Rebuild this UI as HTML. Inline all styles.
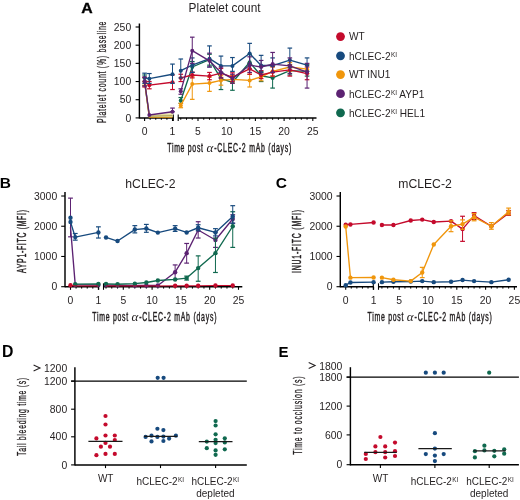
<!DOCTYPE html>
<html><head><meta charset="utf-8"><style>
html,body{margin:0;padding:0;background:#fff;}
svg{display:block;font-family:"Liberation Sans", sans-serif;will-change:transform;}
</style></head><body>
<svg width="520" height="500" viewBox="0 0 520 500">
<rect width="520" height="500" fill="#fff"/>
<text transform="translate(81.3,12.7) scale(1.1,1)" font-size="14.4" font-weight="bold" fill="#000" stroke="#000" stroke-width="0.3">A</text>
<text x="224.60" y="12.20" font-size="12.5" text-anchor="middle" font-weight="normal" fill="#231f20"  textLength="72" lengthAdjust="spacingAndGlyphs">Platelet count</text>
<line x1="139.40" y1="23.50" x2="139.40" y2="118.50" stroke="#000" stroke-width="1.45" />
<line x1="135.60" y1="117.90" x2="139.40" y2="117.90" stroke="#000" stroke-width="1.1" />
<text x="131.20" y="121.50" font-size="10.4" text-anchor="end" font-weight="normal" fill="#231f20" >0</text>
<line x1="135.60" y1="99.72" x2="139.40" y2="99.72" stroke="#000" stroke-width="1.1" />
<text x="131.20" y="103.32" font-size="10.4" text-anchor="end" font-weight="normal" fill="#231f20" >50</text>
<line x1="135.60" y1="81.54" x2="139.40" y2="81.54" stroke="#000" stroke-width="1.1" />
<text x="131.20" y="85.14" font-size="10.4" text-anchor="end" font-weight="normal" fill="#231f20" >100</text>
<line x1="135.60" y1="63.36" x2="139.40" y2="63.36" stroke="#000" stroke-width="1.1" />
<text x="131.20" y="66.96" font-size="10.4" text-anchor="end" font-weight="normal" fill="#231f20" >150</text>
<line x1="135.60" y1="45.18" x2="139.40" y2="45.18" stroke="#000" stroke-width="1.1" />
<text x="131.20" y="48.78" font-size="10.4" text-anchor="end" font-weight="normal" fill="#231f20" >200</text>
<line x1="135.60" y1="27.00" x2="139.40" y2="27.00" stroke="#000" stroke-width="1.1" />
<text x="131.20" y="30.60" font-size="10.4" text-anchor="end" font-weight="normal" fill="#231f20" >250</text>
<line x1="139.40" y1="117.90" x2="173.50" y2="117.90" stroke="#000" stroke-width="1.45" />
<line x1="173.30" y1="114.50" x2="173.30" y2="121.00" stroke="#000" stroke-width="1.1" />
<line x1="144.60" y1="117.90" x2="144.60" y2="121.00" stroke="#000" stroke-width="1.1" />
<line x1="172.50" y1="117.90" x2="172.50" y2="121.00" stroke="#000" stroke-width="1.1" />
<line x1="150.18" y1="117.90" x2="150.18" y2="119.80" stroke="#000" stroke-width="1" />
<line x1="155.76" y1="117.90" x2="155.76" y2="119.80" stroke="#000" stroke-width="1" />
<line x1="161.34" y1="117.90" x2="161.34" y2="119.80" stroke="#000" stroke-width="1" />
<line x1="166.92" y1="117.90" x2="166.92" y2="119.80" stroke="#000" stroke-width="1" />
<text x="144.60" y="135.00" font-size="10.4" text-anchor="middle" font-weight="normal" fill="#231f20" >0</text>
<text x="172.50" y="135.00" font-size="10.4" text-anchor="middle" font-weight="normal" fill="#231f20" >1</text>
<line x1="178.20" y1="117.90" x2="316.50" y2="117.90" stroke="#000" stroke-width="1.45" />
<line x1="178.20" y1="114.50" x2="178.20" y2="121.00" stroke="#000" stroke-width="1.1" />
<line x1="180.78" y1="117.90" x2="180.78" y2="119.80" stroke="#000" stroke-width="1" />
<line x1="186.52" y1="117.90" x2="186.52" y2="119.80" stroke="#000" stroke-width="1" />
<line x1="192.26" y1="117.90" x2="192.26" y2="119.80" stroke="#000" stroke-width="1" />
<line x1="198.00" y1="117.90" x2="198.00" y2="121.00" stroke="#000" stroke-width="1.1" />
<line x1="203.74" y1="117.90" x2="203.74" y2="119.80" stroke="#000" stroke-width="1" />
<line x1="209.48" y1="117.90" x2="209.48" y2="119.80" stroke="#000" stroke-width="1" />
<line x1="215.22" y1="117.90" x2="215.22" y2="119.80" stroke="#000" stroke-width="1" />
<line x1="220.96" y1="117.90" x2="220.96" y2="119.80" stroke="#000" stroke-width="1" />
<line x1="226.70" y1="117.90" x2="226.70" y2="121.00" stroke="#000" stroke-width="1.1" />
<line x1="232.44" y1="117.90" x2="232.44" y2="119.80" stroke="#000" stroke-width="1" />
<line x1="238.18" y1="117.90" x2="238.18" y2="119.80" stroke="#000" stroke-width="1" />
<line x1="243.92" y1="117.90" x2="243.92" y2="119.80" stroke="#000" stroke-width="1" />
<line x1="249.66" y1="117.90" x2="249.66" y2="119.80" stroke="#000" stroke-width="1" />
<line x1="255.40" y1="117.90" x2="255.40" y2="121.00" stroke="#000" stroke-width="1.1" />
<line x1="261.14" y1="117.90" x2="261.14" y2="119.80" stroke="#000" stroke-width="1" />
<line x1="266.88" y1="117.90" x2="266.88" y2="119.80" stroke="#000" stroke-width="1" />
<line x1="272.62" y1="117.90" x2="272.62" y2="119.80" stroke="#000" stroke-width="1" />
<line x1="278.36" y1="117.90" x2="278.36" y2="119.80" stroke="#000" stroke-width="1" />
<line x1="284.10" y1="117.90" x2="284.10" y2="121.00" stroke="#000" stroke-width="1.1" />
<line x1="289.84" y1="117.90" x2="289.84" y2="119.80" stroke="#000" stroke-width="1" />
<line x1="295.58" y1="117.90" x2="295.58" y2="119.80" stroke="#000" stroke-width="1" />
<line x1="301.32" y1="117.90" x2="301.32" y2="119.80" stroke="#000" stroke-width="1" />
<line x1="307.06" y1="117.90" x2="307.06" y2="119.80" stroke="#000" stroke-width="1" />
<line x1="312.80" y1="117.90" x2="312.80" y2="121.00" stroke="#000" stroke-width="1.1" />
<text x="198.00" y="135.00" font-size="10.4" text-anchor="middle" font-weight="normal" fill="#231f20" >5</text>
<text x="226.70" y="135.00" font-size="10.4" text-anchor="middle" font-weight="normal" fill="#231f20" >10</text>
<text x="255.40" y="135.00" font-size="10.4" text-anchor="middle" font-weight="normal" fill="#231f20" >15</text>
<text x="284.10" y="135.00" font-size="10.4" text-anchor="middle" font-weight="normal" fill="#231f20" >20</text>
<text x="312.80" y="135.00" font-size="10.4" text-anchor="middle" font-weight="normal" fill="#231f20" >25</text>
<text transform="translate(167.20,151.70) scale(0.58,1)" font-size="11.9" letter-spacing="1.240" fill="#231f20" stroke="#231f20" stroke-width="0.45">Time post</text>
<text x="206.40" y="151.70" font-size="13" font-family="Liberation Serif" font-style="italic" fill="#231f20">α</text>
<text transform="translate(214.20,151.70) scale(0.58,1)" font-size="11.9" letter-spacing="1.334" fill="#231f20" stroke="#231f20" stroke-width="0.45">-CLEC-2 mAb (days)</text>
<g transform="translate(106.2,72.3) rotate(-90)">
<text transform="translate(-50.80,0.00) scale(0.58,1)" font-size="11.9" letter-spacing="1.293" fill="#231f20" stroke="#231f20" stroke-width="0.3">Platelet count (%) baseline</text>
</g>
<polyline points="144.60,81.54 149.34,116.81 172.50,116.45" fill="none" stroke="#10694f" stroke-width="1.35" stroke-linejoin="round"/>
<polyline points="180.78,100.45 192.26,67.00 209.48,59.72 220.96,78.63 232.44,82.27 249.66,62.27 261.14,75.72 272.62,77.90 289.84,70.63 307.06,71.36" fill="none" stroke="#10694f" stroke-width="1.35" stroke-linejoin="round"/>
<line x1="144.60" y1="85.90" x2="144.60" y2="75.00" stroke="#10694f" stroke-width="1.0" />
<line x1="142.30" y1="85.90" x2="146.90" y2="85.90" stroke="#10694f" stroke-width="1.2" />
<line x1="142.30" y1="75.00" x2="146.90" y2="75.00" stroke="#10694f" stroke-width="1.2" />
<circle cx="144.60" cy="81.54" r="2.0" fill="#10694f"/>
<line x1="180.78" y1="103.36" x2="180.78" y2="97.54" stroke="#10694f" stroke-width="1.0" />
<line x1="178.48" y1="103.36" x2="183.08" y2="103.36" stroke="#10694f" stroke-width="1.2" />
<line x1="178.48" y1="97.54" x2="183.08" y2="97.54" stroke="#10694f" stroke-width="1.2" />
<circle cx="180.78" cy="100.45" r="2.0" fill="#10694f"/>
<line x1="192.26" y1="72.45" x2="192.26" y2="61.54" stroke="#10694f" stroke-width="1.0" />
<line x1="189.96" y1="72.45" x2="194.56" y2="72.45" stroke="#10694f" stroke-width="1.2" />
<line x1="189.96" y1="61.54" x2="194.56" y2="61.54" stroke="#10694f" stroke-width="1.2" />
<circle cx="192.26" cy="67.00" r="2.0" fill="#10694f"/>
<line x1="209.48" y1="65.18" x2="209.48" y2="54.27" stroke="#10694f" stroke-width="1.0" />
<line x1="207.18" y1="65.18" x2="211.78" y2="65.18" stroke="#10694f" stroke-width="1.2" />
<line x1="207.18" y1="54.27" x2="211.78" y2="54.27" stroke="#10694f" stroke-width="1.2" />
<circle cx="209.48" cy="59.72" r="2.0" fill="#10694f"/>
<line x1="220.96" y1="89.54" x2="220.96" y2="72.45" stroke="#10694f" stroke-width="1.0" />
<line x1="218.66" y1="89.54" x2="223.26" y2="89.54" stroke="#10694f" stroke-width="1.2" />
<line x1="218.66" y1="72.45" x2="223.26" y2="72.45" stroke="#10694f" stroke-width="1.2" />
<circle cx="220.96" cy="78.63" r="2.0" fill="#10694f"/>
<line x1="232.44" y1="90.27" x2="232.44" y2="76.09" stroke="#10694f" stroke-width="1.0" />
<line x1="230.14" y1="90.27" x2="234.74" y2="90.27" stroke="#10694f" stroke-width="1.2" />
<line x1="230.14" y1="76.09" x2="234.74" y2="76.09" stroke="#10694f" stroke-width="1.2" />
<circle cx="232.44" cy="82.27" r="2.0" fill="#10694f"/>
<line x1="249.66" y1="68.81" x2="249.66" y2="54.27" stroke="#10694f" stroke-width="1.0" />
<line x1="247.36" y1="68.81" x2="251.96" y2="68.81" stroke="#10694f" stroke-width="1.2" />
<line x1="247.36" y1="54.27" x2="251.96" y2="54.27" stroke="#10694f" stroke-width="1.2" />
<circle cx="249.66" cy="62.27" r="2.0" fill="#10694f"/>
<line x1="261.14" y1="81.54" x2="261.14" y2="71.36" stroke="#10694f" stroke-width="1.0" />
<line x1="258.84" y1="81.54" x2="263.44" y2="81.54" stroke="#10694f" stroke-width="1.2" />
<line x1="258.84" y1="71.36" x2="263.44" y2="71.36" stroke="#10694f" stroke-width="1.2" />
<circle cx="261.14" cy="75.72" r="2.0" fill="#10694f"/>
<line x1="272.62" y1="88.08" x2="272.62" y2="72.45" stroke="#10694f" stroke-width="1.0" />
<line x1="270.32" y1="88.08" x2="274.92" y2="88.08" stroke="#10694f" stroke-width="1.2" />
<line x1="270.32" y1="72.45" x2="274.92" y2="72.45" stroke="#10694f" stroke-width="1.2" />
<circle cx="272.62" cy="77.90" r="2.0" fill="#10694f"/>
<line x1="289.84" y1="75.00" x2="289.84" y2="64.81" stroke="#10694f" stroke-width="1.0" />
<line x1="287.54" y1="75.00" x2="292.14" y2="75.00" stroke="#10694f" stroke-width="1.2" />
<line x1="287.54" y1="64.81" x2="292.14" y2="64.81" stroke="#10694f" stroke-width="1.2" />
<circle cx="289.84" cy="70.63" r="2.0" fill="#10694f"/>
<line x1="307.06" y1="76.09" x2="307.06" y2="64.81" stroke="#10694f" stroke-width="1.0" />
<line x1="304.76" y1="76.09" x2="309.36" y2="76.09" stroke="#10694f" stroke-width="1.2" />
<line x1="304.76" y1="64.81" x2="309.36" y2="64.81" stroke="#10694f" stroke-width="1.2" />
<circle cx="307.06" cy="71.36" r="2.0" fill="#10694f"/>
<polyline points="144.60,81.54 149.34,117.17 172.50,117.17" fill="none" stroke="#f0960c" stroke-width="1.35" stroke-linejoin="round"/>
<polyline points="180.78,105.54 192.26,84.09 209.48,82.99 220.96,80.45 232.44,79.36 249.66,80.45 261.14,76.81 272.62,71.36 289.84,67.00 307.06,69.18" fill="none" stroke="#f0960c" stroke-width="1.35" stroke-linejoin="round"/>
<line x1="144.60" y1="85.18" x2="144.60" y2="77.90" stroke="#f0960c" stroke-width="1.0" />
<line x1="142.30" y1="85.18" x2="146.90" y2="85.18" stroke="#f0960c" stroke-width="1.2" />
<line x1="142.30" y1="77.90" x2="146.90" y2="77.90" stroke="#f0960c" stroke-width="1.2" />
<circle cx="144.60" cy="81.54" r="2.0" fill="#f0960c"/>
<line x1="180.78" y1="107.72" x2="180.78" y2="103.36" stroke="#f0960c" stroke-width="1.0" />
<line x1="178.48" y1="107.72" x2="183.08" y2="107.72" stroke="#f0960c" stroke-width="1.2" />
<line x1="178.48" y1="103.36" x2="183.08" y2="103.36" stroke="#f0960c" stroke-width="1.2" />
<circle cx="180.78" cy="105.54" r="2.0" fill="#f0960c"/>
<line x1="192.26" y1="99.36" x2="192.26" y2="76.81" stroke="#f0960c" stroke-width="1.0" />
<line x1="189.96" y1="99.36" x2="194.56" y2="99.36" stroke="#f0960c" stroke-width="1.2" />
<line x1="189.96" y1="76.81" x2="194.56" y2="76.81" stroke="#f0960c" stroke-width="1.2" />
<circle cx="192.26" cy="84.09" r="2.0" fill="#f0960c"/>
<line x1="209.48" y1="91.36" x2="209.48" y2="77.18" stroke="#f0960c" stroke-width="1.0" />
<line x1="207.18" y1="91.36" x2="211.78" y2="91.36" stroke="#f0960c" stroke-width="1.2" />
<line x1="207.18" y1="77.18" x2="211.78" y2="77.18" stroke="#f0960c" stroke-width="1.2" />
<circle cx="209.48" cy="82.99" r="2.0" fill="#f0960c"/>
<line x1="220.96" y1="85.18" x2="220.96" y2="75.72" stroke="#f0960c" stroke-width="1.0" />
<line x1="218.66" y1="85.18" x2="223.26" y2="85.18" stroke="#f0960c" stroke-width="1.2" />
<line x1="218.66" y1="75.72" x2="223.26" y2="75.72" stroke="#f0960c" stroke-width="1.2" />
<circle cx="220.96" cy="80.45" r="2.0" fill="#f0960c"/>
<line x1="232.44" y1="83.36" x2="232.44" y2="75.36" stroke="#f0960c" stroke-width="1.0" />
<line x1="230.14" y1="83.36" x2="234.74" y2="83.36" stroke="#f0960c" stroke-width="1.2" />
<line x1="230.14" y1="75.36" x2="234.74" y2="75.36" stroke="#f0960c" stroke-width="1.2" />
<circle cx="232.44" cy="79.36" r="2.0" fill="#f0960c"/>
<line x1="249.66" y1="86.99" x2="249.66" y2="74.27" stroke="#f0960c" stroke-width="1.0" />
<line x1="247.36" y1="86.99" x2="251.96" y2="86.99" stroke="#f0960c" stroke-width="1.2" />
<line x1="247.36" y1="74.27" x2="251.96" y2="74.27" stroke="#f0960c" stroke-width="1.2" />
<circle cx="249.66" cy="80.45" r="2.0" fill="#f0960c"/>
<line x1="261.14" y1="80.81" x2="261.14" y2="72.81" stroke="#f0960c" stroke-width="1.0" />
<line x1="258.84" y1="80.81" x2="263.44" y2="80.81" stroke="#f0960c" stroke-width="1.2" />
<line x1="258.84" y1="72.81" x2="263.44" y2="72.81" stroke="#f0960c" stroke-width="1.2" />
<circle cx="261.14" cy="76.81" r="2.0" fill="#f0960c"/>
<line x1="272.62" y1="76.09" x2="272.62" y2="67.00" stroke="#f0960c" stroke-width="1.0" />
<line x1="270.32" y1="76.09" x2="274.92" y2="76.09" stroke="#f0960c" stroke-width="1.2" />
<line x1="270.32" y1="67.00" x2="274.92" y2="67.00" stroke="#f0960c" stroke-width="1.2" />
<circle cx="272.62" cy="71.36" r="2.0" fill="#f0960c"/>
<line x1="289.84" y1="71.36" x2="289.84" y2="62.63" stroke="#f0960c" stroke-width="1.0" />
<line x1="287.54" y1="71.36" x2="292.14" y2="71.36" stroke="#f0960c" stroke-width="1.2" />
<line x1="287.54" y1="62.63" x2="292.14" y2="62.63" stroke="#f0960c" stroke-width="1.2" />
<circle cx="289.84" cy="67.00" r="2.0" fill="#f0960c"/>
<line x1="307.06" y1="73.54" x2="307.06" y2="64.09" stroke="#f0960c" stroke-width="1.0" />
<line x1="304.76" y1="73.54" x2="309.36" y2="73.54" stroke="#f0960c" stroke-width="1.2" />
<line x1="304.76" y1="64.09" x2="309.36" y2="64.09" stroke="#f0960c" stroke-width="1.2" />
<circle cx="307.06" cy="69.18" r="2.0" fill="#f0960c"/>
<polygon points="149.0,115.2 172.6,113.0 172.6,117.1 149.0,117.1" fill="#e8df9e"/>
<line x1="149.00" y1="116.20" x2="172.60" y2="115.70" stroke="#a39448" stroke-width="0.9" />
<polyline points="144.60,81.54 149.34,85.18 172.50,82.27" fill="none" stroke="#c40a2c" stroke-width="1.35" stroke-linejoin="round"/>
<polyline points="180.78,77.90 192.26,75.00 209.48,76.09 220.96,73.18 232.44,77.18 249.66,68.81 261.14,75.00 272.62,72.09 289.84,69.90 307.06,73.54" fill="none" stroke="#c40a2c" stroke-width="1.35" stroke-linejoin="round"/>
<line x1="144.60" y1="86.99" x2="144.60" y2="77.18" stroke="#c40a2c" stroke-width="1.0" />
<line x1="142.30" y1="86.99" x2="146.90" y2="86.99" stroke="#c40a2c" stroke-width="1.2" />
<line x1="142.30" y1="77.18" x2="146.90" y2="77.18" stroke="#c40a2c" stroke-width="1.2" />
<circle cx="144.60" cy="81.54" r="2.0" fill="#c40a2c"/>
<line x1="149.34" y1="88.81" x2="149.34" y2="81.54" stroke="#c40a2c" stroke-width="1.0" />
<line x1="147.04" y1="88.81" x2="151.64" y2="88.81" stroke="#c40a2c" stroke-width="1.2" />
<line x1="147.04" y1="81.54" x2="151.64" y2="81.54" stroke="#c40a2c" stroke-width="1.2" />
<circle cx="149.34" cy="85.18" r="2.0" fill="#c40a2c"/>
<line x1="172.50" y1="89.54" x2="172.50" y2="75.00" stroke="#c40a2c" stroke-width="1.0" />
<line x1="170.20" y1="89.54" x2="174.80" y2="89.54" stroke="#c40a2c" stroke-width="1.2" />
<line x1="170.20" y1="75.00" x2="174.80" y2="75.00" stroke="#c40a2c" stroke-width="1.2" />
<circle cx="172.50" cy="82.27" r="2.0" fill="#c40a2c"/>
<line x1="180.78" y1="81.54" x2="180.78" y2="74.27" stroke="#c40a2c" stroke-width="1.0" />
<line x1="178.48" y1="81.54" x2="183.08" y2="81.54" stroke="#c40a2c" stroke-width="1.2" />
<line x1="178.48" y1="74.27" x2="183.08" y2="74.27" stroke="#c40a2c" stroke-width="1.2" />
<circle cx="180.78" cy="77.90" r="2.0" fill="#c40a2c"/>
<line x1="192.26" y1="77.90" x2="192.26" y2="72.09" stroke="#c40a2c" stroke-width="1.0" />
<line x1="189.96" y1="77.90" x2="194.56" y2="77.90" stroke="#c40a2c" stroke-width="1.2" />
<line x1="189.96" y1="72.09" x2="194.56" y2="72.09" stroke="#c40a2c" stroke-width="1.2" />
<circle cx="192.26" cy="75.00" r="2.0" fill="#c40a2c"/>
<line x1="209.48" y1="79.72" x2="209.48" y2="72.45" stroke="#c40a2c" stroke-width="1.0" />
<line x1="207.18" y1="79.72" x2="211.78" y2="79.72" stroke="#c40a2c" stroke-width="1.2" />
<line x1="207.18" y1="72.45" x2="211.78" y2="72.45" stroke="#c40a2c" stroke-width="1.2" />
<circle cx="209.48" cy="76.09" r="2.0" fill="#c40a2c"/>
<line x1="220.96" y1="77.90" x2="220.96" y2="68.45" stroke="#c40a2c" stroke-width="1.0" />
<line x1="218.66" y1="77.90" x2="223.26" y2="77.90" stroke="#c40a2c" stroke-width="1.2" />
<line x1="218.66" y1="68.45" x2="223.26" y2="68.45" stroke="#c40a2c" stroke-width="1.2" />
<circle cx="220.96" cy="73.18" r="2.0" fill="#c40a2c"/>
<line x1="232.44" y1="81.54" x2="232.44" y2="72.81" stroke="#c40a2c" stroke-width="1.0" />
<line x1="230.14" y1="81.54" x2="234.74" y2="81.54" stroke="#c40a2c" stroke-width="1.2" />
<line x1="230.14" y1="72.81" x2="234.74" y2="72.81" stroke="#c40a2c" stroke-width="1.2" />
<circle cx="232.44" cy="77.18" r="2.0" fill="#c40a2c"/>
<line x1="249.66" y1="74.27" x2="249.66" y2="63.36" stroke="#c40a2c" stroke-width="1.0" />
<line x1="247.36" y1="74.27" x2="251.96" y2="74.27" stroke="#c40a2c" stroke-width="1.2" />
<line x1="247.36" y1="63.36" x2="251.96" y2="63.36" stroke="#c40a2c" stroke-width="1.2" />
<circle cx="249.66" cy="68.81" r="2.0" fill="#c40a2c"/>
<line x1="261.14" y1="78.63" x2="261.14" y2="70.63" stroke="#c40a2c" stroke-width="1.0" />
<line x1="258.84" y1="78.63" x2="263.44" y2="78.63" stroke="#c40a2c" stroke-width="1.2" />
<line x1="258.84" y1="70.63" x2="263.44" y2="70.63" stroke="#c40a2c" stroke-width="1.2" />
<circle cx="261.14" cy="75.00" r="2.0" fill="#c40a2c"/>
<line x1="272.62" y1="76.09" x2="272.62" y2="66.63" stroke="#c40a2c" stroke-width="1.0" />
<line x1="270.32" y1="76.09" x2="274.92" y2="76.09" stroke="#c40a2c" stroke-width="1.2" />
<line x1="270.32" y1="66.63" x2="274.92" y2="66.63" stroke="#c40a2c" stroke-width="1.2" />
<circle cx="272.62" cy="72.09" r="2.0" fill="#c40a2c"/>
<line x1="289.84" y1="76.09" x2="289.84" y2="65.18" stroke="#c40a2c" stroke-width="1.0" />
<line x1="287.54" y1="76.09" x2="292.14" y2="76.09" stroke="#c40a2c" stroke-width="1.2" />
<line x1="287.54" y1="65.18" x2="292.14" y2="65.18" stroke="#c40a2c" stroke-width="1.2" />
<circle cx="289.84" cy="69.90" r="2.0" fill="#c40a2c"/>
<line x1="307.06" y1="79.72" x2="307.06" y2="67.00" stroke="#c40a2c" stroke-width="1.0" />
<line x1="304.76" y1="79.72" x2="309.36" y2="79.72" stroke="#c40a2c" stroke-width="1.2" />
<line x1="304.76" y1="67.00" x2="309.36" y2="67.00" stroke="#c40a2c" stroke-width="1.2" />
<circle cx="307.06" cy="73.54" r="2.0" fill="#c40a2c"/>
<polyline points="144.60,77.90 149.34,78.63 172.50,74.27" fill="none" stroke="#174a7e" stroke-width="1.35" stroke-linejoin="round"/>
<polyline points="180.78,70.63 192.26,65.18 209.48,58.63 220.96,65.91 232.44,65.91 249.66,53.54 261.14,65.54 272.62,65.54 289.84,60.09 307.06,65.18" fill="none" stroke="#174a7e" stroke-width="1.35" stroke-linejoin="round"/>
<line x1="144.60" y1="83.36" x2="144.60" y2="73.18" stroke="#174a7e" stroke-width="1.0" />
<line x1="142.30" y1="83.36" x2="146.90" y2="83.36" stroke="#174a7e" stroke-width="1.2" />
<line x1="142.30" y1="73.18" x2="146.90" y2="73.18" stroke="#174a7e" stroke-width="1.2" />
<circle cx="144.60" cy="77.90" r="2.0" fill="#174a7e"/>
<line x1="149.34" y1="83.36" x2="149.34" y2="73.54" stroke="#174a7e" stroke-width="1.0" />
<line x1="147.04" y1="83.36" x2="151.64" y2="83.36" stroke="#174a7e" stroke-width="1.2" />
<line x1="147.04" y1="73.54" x2="151.64" y2="73.54" stroke="#174a7e" stroke-width="1.2" />
<circle cx="149.34" cy="78.63" r="2.0" fill="#174a7e"/>
<line x1="172.50" y1="83.36" x2="172.50" y2="64.09" stroke="#174a7e" stroke-width="1.0" />
<line x1="170.20" y1="83.36" x2="174.80" y2="83.36" stroke="#174a7e" stroke-width="1.2" />
<line x1="170.20" y1="64.09" x2="174.80" y2="64.09" stroke="#174a7e" stroke-width="1.2" />
<circle cx="172.50" cy="74.27" r="2.0" fill="#174a7e"/>
<line x1="180.78" y1="77.90" x2="180.78" y2="59.00" stroke="#174a7e" stroke-width="1.0" />
<line x1="178.48" y1="77.90" x2="183.08" y2="77.90" stroke="#174a7e" stroke-width="1.2" />
<line x1="178.48" y1="59.00" x2="183.08" y2="59.00" stroke="#174a7e" stroke-width="1.2" />
<circle cx="180.78" cy="70.63" r="2.0" fill="#174a7e"/>
<line x1="192.26" y1="72.45" x2="192.26" y2="57.91" stroke="#174a7e" stroke-width="1.0" />
<line x1="189.96" y1="72.45" x2="194.56" y2="72.45" stroke="#174a7e" stroke-width="1.2" />
<line x1="189.96" y1="57.91" x2="194.56" y2="57.91" stroke="#174a7e" stroke-width="1.2" />
<circle cx="192.26" cy="65.18" r="2.0" fill="#174a7e"/>
<line x1="209.48" y1="67.00" x2="209.48" y2="45.91" stroke="#174a7e" stroke-width="1.0" />
<line x1="207.18" y1="67.00" x2="211.78" y2="67.00" stroke="#174a7e" stroke-width="1.2" />
<line x1="207.18" y1="45.91" x2="211.78" y2="45.91" stroke="#174a7e" stroke-width="1.2" />
<circle cx="209.48" cy="58.63" r="2.0" fill="#174a7e"/>
<line x1="220.96" y1="72.45" x2="220.96" y2="56.09" stroke="#174a7e" stroke-width="1.0" />
<line x1="218.66" y1="72.45" x2="223.26" y2="72.45" stroke="#174a7e" stroke-width="1.2" />
<line x1="218.66" y1="56.09" x2="223.26" y2="56.09" stroke="#174a7e" stroke-width="1.2" />
<circle cx="220.96" cy="65.91" r="2.0" fill="#174a7e"/>
<line x1="232.44" y1="71.36" x2="232.44" y2="57.54" stroke="#174a7e" stroke-width="1.0" />
<line x1="230.14" y1="71.36" x2="234.74" y2="71.36" stroke="#174a7e" stroke-width="1.2" />
<line x1="230.14" y1="57.54" x2="234.74" y2="57.54" stroke="#174a7e" stroke-width="1.2" />
<circle cx="232.44" cy="65.91" r="2.0" fill="#174a7e"/>
<line x1="249.66" y1="63.36" x2="249.66" y2="43.36" stroke="#174a7e" stroke-width="1.0" />
<line x1="247.36" y1="63.36" x2="251.96" y2="63.36" stroke="#174a7e" stroke-width="1.2" />
<line x1="247.36" y1="43.36" x2="251.96" y2="43.36" stroke="#174a7e" stroke-width="1.2" />
<circle cx="249.66" cy="53.54" r="2.0" fill="#174a7e"/>
<line x1="261.14" y1="72.45" x2="261.14" y2="55.36" stroke="#174a7e" stroke-width="1.0" />
<line x1="258.84" y1="72.45" x2="263.44" y2="72.45" stroke="#174a7e" stroke-width="1.2" />
<line x1="258.84" y1="55.36" x2="263.44" y2="55.36" stroke="#174a7e" stroke-width="1.2" />
<circle cx="261.14" cy="65.54" r="2.0" fill="#174a7e"/>
<line x1="272.62" y1="72.45" x2="272.62" y2="57.91" stroke="#174a7e" stroke-width="1.0" />
<line x1="270.32" y1="72.45" x2="274.92" y2="72.45" stroke="#174a7e" stroke-width="1.2" />
<line x1="270.32" y1="57.91" x2="274.92" y2="57.91" stroke="#174a7e" stroke-width="1.2" />
<circle cx="272.62" cy="65.54" r="2.0" fill="#174a7e"/>
<line x1="289.84" y1="67.72" x2="289.84" y2="48.09" stroke="#174a7e" stroke-width="1.0" />
<line x1="287.54" y1="67.72" x2="292.14" y2="67.72" stroke="#174a7e" stroke-width="1.2" />
<line x1="287.54" y1="48.09" x2="292.14" y2="48.09" stroke="#174a7e" stroke-width="1.2" />
<circle cx="289.84" cy="60.09" r="2.0" fill="#174a7e"/>
<line x1="307.06" y1="71.36" x2="307.06" y2="57.91" stroke="#174a7e" stroke-width="1.0" />
<line x1="304.76" y1="71.36" x2="309.36" y2="71.36" stroke="#174a7e" stroke-width="1.2" />
<line x1="304.76" y1="57.91" x2="309.36" y2="57.91" stroke="#174a7e" stroke-width="1.2" />
<circle cx="307.06" cy="65.18" r="2.0" fill="#174a7e"/>
<polyline points="144.60,81.54 149.34,114.99 172.50,111.72" fill="none" stroke="#5c2272" stroke-width="1.35" stroke-linejoin="round"/>
<polyline points="180.78,91.36 192.26,50.63 209.48,60.81 220.96,72.45 232.44,78.63 249.66,65.18 261.14,67.00 272.62,64.09 289.84,65.91 307.06,72.09" fill="none" stroke="#5c2272" stroke-width="1.35" stroke-linejoin="round"/>
<line x1="144.60" y1="85.90" x2="144.60" y2="77.18" stroke="#5c2272" stroke-width="1.0" />
<line x1="142.30" y1="85.90" x2="146.90" y2="85.90" stroke="#5c2272" stroke-width="1.2" />
<line x1="142.30" y1="77.18" x2="146.90" y2="77.18" stroke="#5c2272" stroke-width="1.2" />
<circle cx="144.60" cy="81.54" r="2.0" fill="#5c2272"/>
<circle cx="149.34" cy="114.99" r="2.0" fill="#5c2272"/>
<line x1="172.50" y1="111.72" x2="172.50" y2="108.08" stroke="#5c2272" stroke-width="1.0" />
<line x1="170.20" y1="111.72" x2="174.80" y2="111.72" stroke="#5c2272" stroke-width="1.2" />
<line x1="170.20" y1="108.08" x2="174.80" y2="108.08" stroke="#5c2272" stroke-width="1.2" />
<circle cx="172.50" cy="111.72" r="2.0" fill="#5c2272"/>
<line x1="180.78" y1="94.27" x2="180.78" y2="88.81" stroke="#5c2272" stroke-width="1.0" />
<line x1="178.48" y1="94.27" x2="183.08" y2="94.27" stroke="#5c2272" stroke-width="1.2" />
<line x1="178.48" y1="88.81" x2="183.08" y2="88.81" stroke="#5c2272" stroke-width="1.2" />
<circle cx="180.78" cy="91.36" r="2.0" fill="#5c2272"/>
<line x1="192.26" y1="63.36" x2="192.26" y2="37.18" stroke="#5c2272" stroke-width="1.0" />
<line x1="189.96" y1="63.36" x2="194.56" y2="63.36" stroke="#5c2272" stroke-width="1.2" />
<line x1="189.96" y1="37.18" x2="194.56" y2="37.18" stroke="#5c2272" stroke-width="1.2" />
<circle cx="192.26" cy="50.63" r="2.0" fill="#5c2272"/>
<line x1="209.48" y1="67.00" x2="209.48" y2="53.18" stroke="#5c2272" stroke-width="1.0" />
<line x1="207.18" y1="67.00" x2="211.78" y2="67.00" stroke="#5c2272" stroke-width="1.2" />
<line x1="207.18" y1="53.18" x2="211.78" y2="53.18" stroke="#5c2272" stroke-width="1.2" />
<circle cx="209.48" cy="60.81" r="2.0" fill="#5c2272"/>
<line x1="220.96" y1="77.90" x2="220.96" y2="67.00" stroke="#5c2272" stroke-width="1.0" />
<line x1="218.66" y1="77.90" x2="223.26" y2="77.90" stroke="#5c2272" stroke-width="1.2" />
<line x1="218.66" y1="67.00" x2="223.26" y2="67.00" stroke="#5c2272" stroke-width="1.2" />
<circle cx="220.96" cy="72.45" r="2.0" fill="#5c2272"/>
<line x1="232.44" y1="83.36" x2="232.44" y2="74.27" stroke="#5c2272" stroke-width="1.0" />
<line x1="230.14" y1="83.36" x2="234.74" y2="83.36" stroke="#5c2272" stroke-width="1.2" />
<line x1="230.14" y1="74.27" x2="234.74" y2="74.27" stroke="#5c2272" stroke-width="1.2" />
<circle cx="232.44" cy="78.63" r="2.0" fill="#5c2272"/>
<line x1="249.66" y1="72.45" x2="249.66" y2="56.82" stroke="#5c2272" stroke-width="1.0" />
<line x1="247.36" y1="72.45" x2="251.96" y2="72.45" stroke="#5c2272" stroke-width="1.2" />
<line x1="247.36" y1="56.82" x2="251.96" y2="56.82" stroke="#5c2272" stroke-width="1.2" />
<circle cx="249.66" cy="65.18" r="2.0" fill="#5c2272"/>
<line x1="261.14" y1="74.27" x2="261.14" y2="60.45" stroke="#5c2272" stroke-width="1.0" />
<line x1="258.84" y1="74.27" x2="263.44" y2="74.27" stroke="#5c2272" stroke-width="1.2" />
<line x1="258.84" y1="60.45" x2="263.44" y2="60.45" stroke="#5c2272" stroke-width="1.2" />
<circle cx="261.14" cy="67.00" r="2.0" fill="#5c2272"/>
<line x1="272.62" y1="72.45" x2="272.62" y2="52.45" stroke="#5c2272" stroke-width="1.0" />
<line x1="270.32" y1="72.45" x2="274.92" y2="72.45" stroke="#5c2272" stroke-width="1.2" />
<line x1="270.32" y1="52.45" x2="274.92" y2="52.45" stroke="#5c2272" stroke-width="1.2" />
<circle cx="272.62" cy="64.09" r="2.0" fill="#5c2272"/>
<line x1="289.84" y1="73.54" x2="289.84" y2="57.91" stroke="#5c2272" stroke-width="1.0" />
<line x1="287.54" y1="73.54" x2="292.14" y2="73.54" stroke="#5c2272" stroke-width="1.2" />
<line x1="287.54" y1="57.91" x2="292.14" y2="57.91" stroke="#5c2272" stroke-width="1.2" />
<circle cx="289.84" cy="65.91" r="2.0" fill="#5c2272"/>
<line x1="307.06" y1="88.08" x2="307.06" y2="63.36" stroke="#5c2272" stroke-width="1.0" />
<line x1="304.76" y1="88.08" x2="309.36" y2="88.08" stroke="#5c2272" stroke-width="1.2" />
<line x1="304.76" y1="63.36" x2="309.36" y2="63.36" stroke="#5c2272" stroke-width="1.2" />
<circle cx="307.06" cy="72.09" r="2.0" fill="#5c2272"/>
<circle cx="340.50" cy="36.55" r="4.4" fill="#c40a2c"/>
<text x="349.00" y="39.60" font-size="10.1" text-anchor="start" font-weight="normal" fill="#231f20" >WT</text>
<circle cx="340.50" cy="55.80" r="4.4" fill="#174a7e"/>
<text x="349.00" y="60.20" font-size="10.1" text-anchor="start" font-weight="normal" fill="#231f20" >hCLEC-2<tspan font-size="6.4" dy="-3.2" dx="0.4">KI</tspan></text>
<circle cx="340.50" cy="74.60" r="4.4" fill="#f0960c"/>
<text x="349.00" y="77.60" font-size="10.1" text-anchor="start" font-weight="normal" fill="#231f20" >WT INU1</text>
<circle cx="340.50" cy="93.70" r="4.4" fill="#5c2272"/>
<text x="349.00" y="98.20" font-size="10.1" text-anchor="start" font-weight="normal" fill="#231f20" >hCLEC-2<tspan font-size="6.4" dy="-3.2" dx="0.4">KI</tspan><tspan dy="3.2"> AYP1</tspan></text>
<circle cx="340.50" cy="112.80" r="4.4" fill="#10694f"/>
<text x="349.00" y="117.00" font-size="10.1" text-anchor="start" font-weight="normal" fill="#231f20" >hCLEC-2<tspan font-size="6.4" dy="-3.2" dx="0.4">KI</tspan><tspan dy="3.2"> HEL1</tspan></text>
<text x="-0.20" y="187.60" font-size="15.5" text-anchor="start" font-weight="bold" fill="#000" >B</text>
<text x="150.40" y="188.20" font-size="12.2" text-anchor="middle" font-weight="normal" fill="#231f20" >hCLEC-2</text>
<line x1="65.00" y1="192.00" x2="65.00" y2="287.30" stroke="#000" stroke-width="1.45" />
<line x1="61.20" y1="286.70" x2="65.00" y2="286.70" stroke="#000" stroke-width="1.1" />
<text x="57.20" y="290.30" font-size="10.4" text-anchor="end" font-weight="normal" fill="#231f20" >0</text>
<line x1="61.20" y1="256.47" x2="65.00" y2="256.47" stroke="#000" stroke-width="1.1" />
<text x="57.20" y="260.07" font-size="10.4" text-anchor="end" font-weight="normal" fill="#231f20" >1000</text>
<line x1="61.20" y1="226.24" x2="65.00" y2="226.24" stroke="#000" stroke-width="1.1" />
<text x="57.20" y="229.84" font-size="10.4" text-anchor="end" font-weight="normal" fill="#231f20" >2000</text>
<line x1="61.20" y1="196.01" x2="65.00" y2="196.01" stroke="#000" stroke-width="1.1" />
<text x="57.20" y="199.61" font-size="10.4" text-anchor="end" font-weight="normal" fill="#231f20" >3000</text>
<line x1="65.00" y1="286.70" x2="98.90" y2="286.70" stroke="#000" stroke-width="1.45" />
<line x1="98.70" y1="283.30" x2="98.70" y2="289.80" stroke="#000" stroke-width="1.1" />
<line x1="70.50" y1="286.70" x2="70.50" y2="289.80" stroke="#000" stroke-width="1.1" />
<line x1="98.40" y1="286.70" x2="98.40" y2="289.80" stroke="#000" stroke-width="1.1" />
<line x1="76.08" y1="286.70" x2="76.08" y2="288.60" stroke="#000" stroke-width="1" />
<line x1="81.66" y1="286.70" x2="81.66" y2="288.60" stroke="#000" stroke-width="1" />
<line x1="87.24" y1="286.70" x2="87.24" y2="288.60" stroke="#000" stroke-width="1" />
<line x1="92.82" y1="286.70" x2="92.82" y2="288.60" stroke="#000" stroke-width="1" />
<line x1="103.50" y1="286.70" x2="242.30" y2="286.70" stroke="#000" stroke-width="1.45" />
<line x1="103.50" y1="283.30" x2="103.50" y2="289.80" stroke="#000" stroke-width="1.1" />
<line x1="106.02" y1="286.70" x2="106.02" y2="288.60" stroke="#000" stroke-width="1" />
<line x1="111.78" y1="286.70" x2="111.78" y2="288.60" stroke="#000" stroke-width="1" />
<line x1="117.54" y1="286.70" x2="117.54" y2="288.60" stroke="#000" stroke-width="1" />
<line x1="123.30" y1="286.70" x2="123.30" y2="289.80" stroke="#000" stroke-width="1.1" />
<line x1="129.06" y1="286.70" x2="129.06" y2="288.60" stroke="#000" stroke-width="1" />
<line x1="134.82" y1="286.70" x2="134.82" y2="288.60" stroke="#000" stroke-width="1" />
<line x1="140.58" y1="286.70" x2="140.58" y2="288.60" stroke="#000" stroke-width="1" />
<line x1="146.34" y1="286.70" x2="146.34" y2="288.60" stroke="#000" stroke-width="1" />
<line x1="152.10" y1="286.70" x2="152.10" y2="289.80" stroke="#000" stroke-width="1.1" />
<line x1="157.86" y1="286.70" x2="157.86" y2="288.60" stroke="#000" stroke-width="1" />
<line x1="163.62" y1="286.70" x2="163.62" y2="288.60" stroke="#000" stroke-width="1" />
<line x1="169.38" y1="286.70" x2="169.38" y2="288.60" stroke="#000" stroke-width="1" />
<line x1="175.14" y1="286.70" x2="175.14" y2="288.60" stroke="#000" stroke-width="1" />
<line x1="180.90" y1="286.70" x2="180.90" y2="289.80" stroke="#000" stroke-width="1.1" />
<line x1="186.66" y1="286.70" x2="186.66" y2="288.60" stroke="#000" stroke-width="1" />
<line x1="192.42" y1="286.70" x2="192.42" y2="288.60" stroke="#000" stroke-width="1" />
<line x1="198.18" y1="286.70" x2="198.18" y2="288.60" stroke="#000" stroke-width="1" />
<line x1="203.94" y1="286.70" x2="203.94" y2="288.60" stroke="#000" stroke-width="1" />
<line x1="209.70" y1="286.70" x2="209.70" y2="289.80" stroke="#000" stroke-width="1.1" />
<line x1="215.46" y1="286.70" x2="215.46" y2="288.60" stroke="#000" stroke-width="1" />
<line x1="221.22" y1="286.70" x2="221.22" y2="288.60" stroke="#000" stroke-width="1" />
<line x1="226.98" y1="286.70" x2="226.98" y2="288.60" stroke="#000" stroke-width="1" />
<line x1="232.74" y1="286.70" x2="232.74" y2="288.60" stroke="#000" stroke-width="1" />
<line x1="238.50" y1="286.70" x2="238.50" y2="289.80" stroke="#000" stroke-width="1.1" />
<text x="70.50" y="304.00" font-size="10.4" text-anchor="middle" font-weight="normal" fill="#231f20" >0</text>
<text x="98.40" y="304.00" font-size="10.4" text-anchor="middle" font-weight="normal" fill="#231f20" >1</text>
<text x="123.30" y="304.00" font-size="10.4" text-anchor="middle" font-weight="normal" fill="#231f20" >5</text>
<text x="152.10" y="304.00" font-size="10.4" text-anchor="middle" font-weight="normal" fill="#231f20" >10</text>
<text x="180.90" y="304.00" font-size="10.4" text-anchor="middle" font-weight="normal" fill="#231f20" >15</text>
<text x="209.70" y="304.00" font-size="10.4" text-anchor="middle" font-weight="normal" fill="#231f20" >20</text>
<text x="238.50" y="304.00" font-size="10.4" text-anchor="middle" font-weight="normal" fill="#231f20" >25</text>
<text transform="translate(92.30,320.90) scale(0.58,1)" font-size="11.9" letter-spacing="1.240" fill="#231f20" stroke="#231f20" stroke-width="0.45">Time post</text>
<text x="131.50" y="320.90" font-size="13" font-family="Liberation Serif" font-style="italic" fill="#231f20">α</text>
<text transform="translate(139.30,320.90) scale(0.58,1)" font-size="11.9" letter-spacing="1.334" fill="#231f20" stroke="#231f20" stroke-width="0.45">-CLEC-2 mAb (days)</text>
<g transform="translate(25.9,241.5) rotate(-90)">
<text transform="translate(-31.50,0.00) scale(0.58,1)" font-size="11.9" letter-spacing="1.211" fill="#231f20" stroke="#231f20" stroke-width="0.45">AYP1-FITC (MFI)</text>
</g>
<polyline points="70.50,227.15 75.24,284.89 98.40,285.04" fill="none" stroke="#5c2272" stroke-width="1.35" stroke-linejoin="round"/>
<polyline points="106.02,285.04 117.54,285.34 134.82,285.49 146.34,285.49 157.86,285.49 175.14,272.19 186.66,253.14 198.18,230.02 215.46,239.99 232.74,218.98" fill="none" stroke="#5c2272" stroke-width="1.35" stroke-linejoin="round"/>
<line x1="70.50" y1="236.82" x2="70.50" y2="198.13" stroke="#5c2272" stroke-width="1.0" />
<line x1="68.10" y1="236.82" x2="72.90" y2="236.82" stroke="#5c2272" stroke-width="1.2" />
<line x1="68.10" y1="198.13" x2="72.90" y2="198.13" stroke="#5c2272" stroke-width="1.2" />
<circle cx="75.24" cy="284.89" r="2.2" fill="#5c2272"/>
<circle cx="98.40" cy="285.04" r="2.2" fill="#5c2272"/>
<circle cx="106.02" cy="285.04" r="2.2" fill="#5c2272"/>
<circle cx="117.54" cy="285.34" r="2.2" fill="#5c2272"/>
<circle cx="134.82" cy="285.49" r="2.2" fill="#5c2272"/>
<circle cx="146.34" cy="285.49" r="2.2" fill="#5c2272"/>
<circle cx="157.86" cy="285.49" r="2.2" fill="#5c2272"/>
<line x1="175.14" y1="279.44" x2="175.14" y2="264.93" stroke="#5c2272" stroke-width="1.0" />
<line x1="172.74" y1="279.44" x2="177.54" y2="279.44" stroke="#5c2272" stroke-width="1.2" />
<line x1="172.74" y1="264.93" x2="177.54" y2="264.93" stroke="#5c2272" stroke-width="1.2" />
<circle cx="175.14" cy="272.19" r="2.2" fill="#5c2272"/>
<line x1="186.66" y1="263.12" x2="186.66" y2="243.47" stroke="#5c2272" stroke-width="1.0" />
<line x1="184.26" y1="263.12" x2="189.06" y2="263.12" stroke="#5c2272" stroke-width="1.2" />
<line x1="184.26" y1="243.47" x2="189.06" y2="243.47" stroke="#5c2272" stroke-width="1.2" />
<circle cx="186.66" cy="253.14" r="2.2" fill="#5c2272"/>
<line x1="198.18" y1="238.03" x2="198.18" y2="221.71" stroke="#5c2272" stroke-width="1.0" />
<line x1="195.78" y1="238.03" x2="200.58" y2="238.03" stroke="#5c2272" stroke-width="1.2" />
<line x1="195.78" y1="221.71" x2="200.58" y2="221.71" stroke="#5c2272" stroke-width="1.2" />
<circle cx="198.18" cy="230.02" r="2.2" fill="#5c2272"/>
<line x1="215.46" y1="247.40" x2="215.46" y2="231.98" stroke="#5c2272" stroke-width="1.0" />
<line x1="213.06" y1="247.40" x2="217.86" y2="247.40" stroke="#5c2272" stroke-width="1.2" />
<line x1="213.06" y1="231.98" x2="217.86" y2="231.98" stroke="#5c2272" stroke-width="1.2" />
<circle cx="215.46" cy="239.99" r="2.2" fill="#5c2272"/>
<line x1="232.74" y1="223.22" x2="232.74" y2="214.75" stroke="#5c2272" stroke-width="1.0" />
<line x1="230.34" y1="223.22" x2="235.14" y2="223.22" stroke="#5c2272" stroke-width="1.2" />
<line x1="230.34" y1="214.75" x2="235.14" y2="214.75" stroke="#5c2272" stroke-width="1.2" />
<circle cx="232.74" cy="218.98" r="2.2" fill="#5c2272"/>
<polyline points="75.24,284.13 98.40,283.98" fill="none" stroke="#10694f" stroke-width="1.35" stroke-linejoin="round"/>
<polyline points="106.02,283.83 117.54,284.28 134.82,283.68 146.34,282.47 157.86,280.50 175.14,279.44 186.66,278.08 198.18,268.11 215.46,253.14 232.74,226.24" fill="none" stroke="#10694f" stroke-width="1.35" stroke-linejoin="round"/>
<circle cx="75.24" cy="284.13" r="2.2" fill="#10694f"/>
<circle cx="98.40" cy="283.98" r="2.2" fill="#10694f"/>
<circle cx="106.02" cy="283.83" r="2.2" fill="#10694f"/>
<circle cx="117.54" cy="284.28" r="2.2" fill="#10694f"/>
<circle cx="134.82" cy="283.68" r="2.2" fill="#10694f"/>
<circle cx="146.34" cy="282.47" r="2.2" fill="#10694f"/>
<circle cx="157.86" cy="280.50" r="2.2" fill="#10694f"/>
<circle cx="175.14" cy="279.44" r="2.2" fill="#10694f"/>
<line x1="186.66" y1="280.05" x2="186.66" y2="276.12" stroke="#10694f" stroke-width="1.0" />
<line x1="184.26" y1="280.05" x2="189.06" y2="280.05" stroke="#10694f" stroke-width="1.2" />
<line x1="184.26" y1="276.12" x2="189.06" y2="276.12" stroke="#10694f" stroke-width="1.2" />
<circle cx="186.66" cy="278.08" r="2.2" fill="#10694f"/>
<line x1="198.18" y1="281.26" x2="198.18" y2="255.87" stroke="#10694f" stroke-width="1.0" />
<line x1="195.78" y1="281.26" x2="200.58" y2="281.26" stroke="#10694f" stroke-width="1.2" />
<line x1="195.78" y1="255.87" x2="200.58" y2="255.87" stroke="#10694f" stroke-width="1.2" />
<circle cx="198.18" cy="268.11" r="2.2" fill="#10694f"/>
<line x1="215.46" y1="272.49" x2="215.46" y2="238.03" stroke="#10694f" stroke-width="1.0" />
<line x1="213.06" y1="272.49" x2="217.86" y2="272.49" stroke="#10694f" stroke-width="1.2" />
<line x1="213.06" y1="238.03" x2="217.86" y2="238.03" stroke="#10694f" stroke-width="1.2" />
<circle cx="215.46" cy="253.14" r="2.2" fill="#10694f"/>
<line x1="232.74" y1="247.40" x2="232.74" y2="211.73" stroke="#10694f" stroke-width="1.0" />
<line x1="230.34" y1="247.40" x2="235.14" y2="247.40" stroke="#10694f" stroke-width="1.2" />
<line x1="230.34" y1="211.73" x2="235.14" y2="211.73" stroke="#10694f" stroke-width="1.2" />
<circle cx="232.74" cy="226.24" r="2.2" fill="#10694f"/>
<polyline points="70.50,285.19 75.24,285.94 98.40,285.94" fill="none" stroke="#c40a2c" stroke-width="1.0" stroke-linejoin="round"/>
<polyline points="106.02,285.94 117.54,285.94 134.82,285.94 146.34,285.94 157.86,285.94 175.14,285.79 186.66,285.79 198.18,285.79 215.46,285.49 232.74,285.49" fill="none" stroke="#c40a2c" stroke-width="1.0" stroke-linejoin="round"/>
<circle cx="70.50" cy="285.19" r="2.2" fill="#c40a2c"/>
<circle cx="175.14" cy="285.79" r="2.2" fill="#c40a2c"/>
<circle cx="186.66" cy="285.79" r="2.2" fill="#c40a2c"/>
<circle cx="198.18" cy="285.79" r="2.2" fill="#c40a2c"/>
<circle cx="215.46" cy="285.49" r="2.2" fill="#c40a2c"/>
<circle cx="232.74" cy="285.49" r="2.2" fill="#c40a2c"/>
<polyline points="70.50,217.78 70.50,222.01 75.24,237.12 98.40,232.44" fill="none" stroke="#174a7e" stroke-width="1.35" stroke-linejoin="round"/>
<polyline points="106.02,237.43 117.54,241.05 134.82,229.57 146.34,228.51 157.86,232.59 175.14,228.66 186.66,232.44 198.18,227.75 215.46,232.44 232.74,216.57" fill="none" stroke="#174a7e" stroke-width="1.35" stroke-linejoin="round"/>
<circle cx="70.50" cy="217.78" r="2.2" fill="#174a7e"/>
<circle cx="70.50" cy="222.01" r="2.2" fill="#174a7e"/>
<line x1="75.24" y1="240.15" x2="75.24" y2="233.50" stroke="#174a7e" stroke-width="1.0" />
<line x1="72.84" y1="240.15" x2="77.64" y2="240.15" stroke="#174a7e" stroke-width="1.2" />
<line x1="72.84" y1="233.50" x2="77.64" y2="233.50" stroke="#174a7e" stroke-width="1.2" />
<circle cx="75.24" cy="237.12" r="2.2" fill="#174a7e"/>
<line x1="98.40" y1="238.03" x2="98.40" y2="226.84" stroke="#174a7e" stroke-width="1.0" />
<line x1="96.00" y1="238.03" x2="100.80" y2="238.03" stroke="#174a7e" stroke-width="1.2" />
<line x1="96.00" y1="226.84" x2="100.80" y2="226.84" stroke="#174a7e" stroke-width="1.2" />
<circle cx="98.40" cy="232.44" r="2.2" fill="#174a7e"/>
<circle cx="106.02" cy="237.43" r="2.2" fill="#174a7e"/>
<circle cx="117.54" cy="241.05" r="2.2" fill="#174a7e"/>
<line x1="134.82" y1="232.89" x2="134.82" y2="225.64" stroke="#174a7e" stroke-width="1.0" />
<line x1="132.42" y1="232.89" x2="137.22" y2="232.89" stroke="#174a7e" stroke-width="1.2" />
<line x1="132.42" y1="225.64" x2="137.22" y2="225.64" stroke="#174a7e" stroke-width="1.2" />
<circle cx="134.82" cy="229.57" r="2.2" fill="#174a7e"/>
<line x1="146.34" y1="232.29" x2="146.34" y2="224.43" stroke="#174a7e" stroke-width="1.0" />
<line x1="143.94" y1="232.29" x2="148.74" y2="232.29" stroke="#174a7e" stroke-width="1.2" />
<line x1="143.94" y1="224.43" x2="148.74" y2="224.43" stroke="#174a7e" stroke-width="1.2" />
<circle cx="146.34" cy="228.51" r="2.2" fill="#174a7e"/>
<circle cx="157.86" cy="232.59" r="2.2" fill="#174a7e"/>
<line x1="175.14" y1="231.38" x2="175.14" y2="225.64" stroke="#174a7e" stroke-width="1.0" />
<line x1="172.74" y1="231.38" x2="177.54" y2="231.38" stroke="#174a7e" stroke-width="1.2" />
<line x1="172.74" y1="225.64" x2="177.54" y2="225.64" stroke="#174a7e" stroke-width="1.2" />
<circle cx="175.14" cy="228.66" r="2.2" fill="#174a7e"/>
<circle cx="186.66" cy="232.44" r="2.2" fill="#174a7e"/>
<line x1="198.18" y1="230.77" x2="198.18" y2="224.73" stroke="#174a7e" stroke-width="1.0" />
<line x1="195.78" y1="230.77" x2="200.58" y2="230.77" stroke="#174a7e" stroke-width="1.2" />
<line x1="195.78" y1="224.73" x2="200.58" y2="224.73" stroke="#174a7e" stroke-width="1.2" />
<circle cx="198.18" cy="227.75" r="2.2" fill="#174a7e"/>
<line x1="215.46" y1="235.91" x2="215.46" y2="228.66" stroke="#174a7e" stroke-width="1.0" />
<line x1="213.06" y1="235.91" x2="217.86" y2="235.91" stroke="#174a7e" stroke-width="1.2" />
<line x1="213.06" y1="228.66" x2="217.86" y2="228.66" stroke="#174a7e" stroke-width="1.2" />
<circle cx="215.46" cy="232.44" r="2.2" fill="#174a7e"/>
<line x1="232.74" y1="223.22" x2="232.74" y2="205.68" stroke="#174a7e" stroke-width="1.0" />
<line x1="230.34" y1="223.22" x2="235.14" y2="223.22" stroke="#174a7e" stroke-width="1.2" />
<line x1="230.34" y1="205.68" x2="235.14" y2="205.68" stroke="#174a7e" stroke-width="1.2" />
<circle cx="232.74" cy="216.57" r="2.2" fill="#174a7e"/>
<text x="275.80" y="187.60" font-size="15.5" text-anchor="start" font-weight="bold" fill="#000" >C</text>
<text x="425.00" y="188.20" font-size="12.2" text-anchor="middle" font-weight="normal" fill="#231f20" >mCLEC-2</text>
<line x1="340.30" y1="192.00" x2="340.30" y2="287.30" stroke="#000" stroke-width="1.45" />
<line x1="336.50" y1="286.70" x2="340.30" y2="286.70" stroke="#000" stroke-width="1.1" />
<text x="332.50" y="290.30" font-size="10.4" text-anchor="end" font-weight="normal" fill="#231f20" >0</text>
<line x1="336.50" y1="256.47" x2="340.30" y2="256.47" stroke="#000" stroke-width="1.1" />
<text x="332.50" y="260.07" font-size="10.4" text-anchor="end" font-weight="normal" fill="#231f20" >1000</text>
<line x1="336.50" y1="226.24" x2="340.30" y2="226.24" stroke="#000" stroke-width="1.1" />
<text x="332.50" y="229.84" font-size="10.4" text-anchor="end" font-weight="normal" fill="#231f20" >2000</text>
<line x1="336.50" y1="196.01" x2="340.30" y2="196.01" stroke="#000" stroke-width="1.1" />
<text x="332.50" y="199.61" font-size="10.4" text-anchor="end" font-weight="normal" fill="#231f20" >3000</text>
<line x1="340.30" y1="286.70" x2="373.50" y2="286.70" stroke="#000" stroke-width="1.45" />
<line x1="373.30" y1="283.30" x2="373.30" y2="289.80" stroke="#000" stroke-width="1.1" />
<line x1="345.70" y1="286.70" x2="345.70" y2="289.80" stroke="#000" stroke-width="1.1" />
<line x1="373.60" y1="286.70" x2="373.60" y2="289.80" stroke="#000" stroke-width="1.1" />
<line x1="351.28" y1="286.70" x2="351.28" y2="288.60" stroke="#000" stroke-width="1" />
<line x1="356.86" y1="286.70" x2="356.86" y2="288.60" stroke="#000" stroke-width="1" />
<line x1="362.44" y1="286.70" x2="362.44" y2="288.60" stroke="#000" stroke-width="1" />
<line x1="368.02" y1="286.70" x2="368.02" y2="288.60" stroke="#000" stroke-width="1" />
<line x1="378.50" y1="286.70" x2="517.00" y2="286.70" stroke="#000" stroke-width="1.45" />
<line x1="378.50" y1="283.30" x2="378.50" y2="289.80" stroke="#000" stroke-width="1.1" />
<line x1="381.92" y1="286.70" x2="381.92" y2="288.60" stroke="#000" stroke-width="1" />
<line x1="387.68" y1="286.70" x2="387.68" y2="288.60" stroke="#000" stroke-width="1" />
<line x1="393.44" y1="286.70" x2="393.44" y2="288.60" stroke="#000" stroke-width="1" />
<line x1="399.20" y1="286.70" x2="399.20" y2="289.80" stroke="#000" stroke-width="1.1" />
<line x1="404.96" y1="286.70" x2="404.96" y2="288.60" stroke="#000" stroke-width="1" />
<line x1="410.72" y1="286.70" x2="410.72" y2="288.60" stroke="#000" stroke-width="1" />
<line x1="416.48" y1="286.70" x2="416.48" y2="288.60" stroke="#000" stroke-width="1" />
<line x1="422.24" y1="286.70" x2="422.24" y2="288.60" stroke="#000" stroke-width="1" />
<line x1="428.00" y1="286.70" x2="428.00" y2="289.80" stroke="#000" stroke-width="1.1" />
<line x1="433.76" y1="286.70" x2="433.76" y2="288.60" stroke="#000" stroke-width="1" />
<line x1="439.52" y1="286.70" x2="439.52" y2="288.60" stroke="#000" stroke-width="1" />
<line x1="445.28" y1="286.70" x2="445.28" y2="288.60" stroke="#000" stroke-width="1" />
<line x1="451.04" y1="286.70" x2="451.04" y2="288.60" stroke="#000" stroke-width="1" />
<line x1="456.80" y1="286.70" x2="456.80" y2="289.80" stroke="#000" stroke-width="1.1" />
<line x1="462.56" y1="286.70" x2="462.56" y2="288.60" stroke="#000" stroke-width="1" />
<line x1="468.32" y1="286.70" x2="468.32" y2="288.60" stroke="#000" stroke-width="1" />
<line x1="474.08" y1="286.70" x2="474.08" y2="288.60" stroke="#000" stroke-width="1" />
<line x1="479.84" y1="286.70" x2="479.84" y2="288.60" stroke="#000" stroke-width="1" />
<line x1="485.60" y1="286.70" x2="485.60" y2="289.80" stroke="#000" stroke-width="1.1" />
<line x1="491.36" y1="286.70" x2="491.36" y2="288.60" stroke="#000" stroke-width="1" />
<line x1="497.12" y1="286.70" x2="497.12" y2="288.60" stroke="#000" stroke-width="1" />
<line x1="502.88" y1="286.70" x2="502.88" y2="288.60" stroke="#000" stroke-width="1" />
<line x1="508.64" y1="286.70" x2="508.64" y2="288.60" stroke="#000" stroke-width="1" />
<line x1="514.40" y1="286.70" x2="514.40" y2="289.80" stroke="#000" stroke-width="1.1" />
<text x="345.70" y="304.00" font-size="10.4" text-anchor="middle" font-weight="normal" fill="#231f20" >0</text>
<text x="373.60" y="304.00" font-size="10.4" text-anchor="middle" font-weight="normal" fill="#231f20" >1</text>
<text x="399.20" y="304.00" font-size="10.4" text-anchor="middle" font-weight="normal" fill="#231f20" >5</text>
<text x="428.00" y="304.00" font-size="10.4" text-anchor="middle" font-weight="normal" fill="#231f20" >10</text>
<text x="456.80" y="304.00" font-size="10.4" text-anchor="middle" font-weight="normal" fill="#231f20" >15</text>
<text x="485.60" y="304.00" font-size="10.4" text-anchor="middle" font-weight="normal" fill="#231f20" >20</text>
<text x="514.40" y="304.00" font-size="10.4" text-anchor="middle" font-weight="normal" fill="#231f20" >25</text>
<text transform="translate(367.60,320.90) scale(0.58,1)" font-size="11.9" letter-spacing="1.240" fill="#231f20" stroke="#231f20" stroke-width="0.45">Time post</text>
<text x="406.80" y="320.90" font-size="13" font-family="Liberation Serif" font-style="italic" fill="#231f20">α</text>
<text transform="translate(414.60,320.90) scale(0.58,1)" font-size="11.9" letter-spacing="1.334" fill="#231f20" stroke="#231f20" stroke-width="0.45">-CLEC-2 mAb (days)</text>
<g transform="translate(301.2,241.5) rotate(-90)">
<text transform="translate(-31.50,0.00) scale(0.58,1)" font-size="11.9" letter-spacing="1.385" fill="#231f20" stroke="#231f20" stroke-width="0.45">INU1-FITC (MFI)</text>
</g>
<polyline points="345.70,285.19 350.44,282.47 373.60,282.17" fill="none" stroke="#174a7e" stroke-width="1.35" stroke-linejoin="round"/>
<polyline points="381.92,282.17 393.44,281.71 410.72,281.56 422.24,281.11 433.76,282.17 451.04,281.71 462.56,280.05 474.08,281.11 491.36,282.17 508.64,279.75" fill="none" stroke="#174a7e" stroke-width="1.35" stroke-linejoin="round"/>
<circle cx="345.70" cy="285.19" r="2.2" fill="#174a7e"/>
<circle cx="350.44" cy="282.47" r="2.2" fill="#174a7e"/>
<circle cx="373.60" cy="282.17" r="2.2" fill="#174a7e"/>
<circle cx="381.92" cy="282.17" r="2.2" fill="#174a7e"/>
<circle cx="393.44" cy="281.71" r="2.2" fill="#174a7e"/>
<circle cx="410.72" cy="281.56" r="2.2" fill="#174a7e"/>
<circle cx="422.24" cy="281.11" r="2.2" fill="#174a7e"/>
<circle cx="433.76" cy="282.17" r="2.2" fill="#174a7e"/>
<circle cx="451.04" cy="281.71" r="2.2" fill="#174a7e"/>
<circle cx="462.56" cy="280.05" r="2.2" fill="#174a7e"/>
<circle cx="474.08" cy="281.11" r="2.2" fill="#174a7e"/>
<circle cx="491.36" cy="282.17" r="2.2" fill="#174a7e"/>
<circle cx="508.64" cy="279.75" r="2.2" fill="#174a7e"/>
<polyline points="345.70,224.73 350.44,224.43 373.60,222.46" fill="none" stroke="#c40a2c" stroke-width="1.35" stroke-linejoin="round"/>
<polyline points="381.92,225.03 393.44,225.03 410.72,220.50 422.24,219.59 433.76,222.01 451.04,221.10 462.56,229.11 474.08,215.66 491.36,226.24 508.64,213.09" fill="none" stroke="#c40a2c" stroke-width="1.35" stroke-linejoin="round"/>
<circle cx="345.70" cy="224.73" r="2.2" fill="#c40a2c"/>
<circle cx="350.44" cy="224.43" r="2.2" fill="#c40a2c"/>
<circle cx="373.60" cy="222.46" r="2.2" fill="#c40a2c"/>
<circle cx="381.92" cy="225.03" r="2.2" fill="#c40a2c"/>
<circle cx="393.44" cy="225.03" r="2.2" fill="#c40a2c"/>
<circle cx="410.72" cy="220.50" r="2.2" fill="#c40a2c"/>
<circle cx="422.24" cy="219.59" r="2.2" fill="#c40a2c"/>
<circle cx="433.76" cy="222.01" r="2.2" fill="#c40a2c"/>
<circle cx="451.04" cy="221.10" r="2.2" fill="#c40a2c"/>
<line x1="462.56" y1="241.35" x2="462.56" y2="216.26" stroke="#c40a2c" stroke-width="1.0" />
<line x1="460.16" y1="241.35" x2="464.96" y2="241.35" stroke="#c40a2c" stroke-width="1.2" />
<line x1="460.16" y1="216.26" x2="464.96" y2="216.26" stroke="#c40a2c" stroke-width="1.2" />
<circle cx="462.56" cy="229.11" r="2.2" fill="#c40a2c"/>
<line x1="474.08" y1="219.59" x2="474.08" y2="212.64" stroke="#c40a2c" stroke-width="1.0" />
<line x1="471.68" y1="219.59" x2="476.48" y2="219.59" stroke="#c40a2c" stroke-width="1.2" />
<line x1="471.68" y1="212.64" x2="476.48" y2="212.64" stroke="#c40a2c" stroke-width="1.2" />
<circle cx="474.08" cy="215.66" r="2.2" fill="#c40a2c"/>
<circle cx="491.36" cy="226.24" r="2.2" fill="#c40a2c"/>
<line x1="508.64" y1="215.36" x2="508.64" y2="210.52" stroke="#c40a2c" stroke-width="1.0" />
<line x1="506.24" y1="215.36" x2="511.04" y2="215.36" stroke="#c40a2c" stroke-width="1.2" />
<line x1="506.24" y1="210.52" x2="511.04" y2="210.52" stroke="#c40a2c" stroke-width="1.2" />
<circle cx="508.64" cy="213.09" r="2.2" fill="#c40a2c"/>
<polyline points="345.70,226.54 350.44,277.63 373.60,277.48" fill="none" stroke="#f0960c" stroke-width="1.35" stroke-linejoin="round"/>
<polyline points="381.92,277.63 393.44,279.75 410.72,281.11 422.24,272.49 433.76,244.53 451.04,226.24 462.56,224.12 474.08,217.17 491.36,226.24 508.64,211.73" fill="none" stroke="#f0960c" stroke-width="1.35" stroke-linejoin="round"/>
<circle cx="345.70" cy="226.54" r="2.2" fill="#f0960c"/>
<circle cx="350.44" cy="277.63" r="2.2" fill="#f0960c"/>
<circle cx="373.60" cy="277.48" r="2.2" fill="#f0960c"/>
<circle cx="381.92" cy="277.63" r="2.2" fill="#f0960c"/>
<circle cx="393.44" cy="279.75" r="2.2" fill="#f0960c"/>
<circle cx="410.72" cy="281.11" r="2.2" fill="#f0960c"/>
<line x1="422.24" y1="277.63" x2="422.24" y2="267.35" stroke="#f0960c" stroke-width="1.0" />
<line x1="419.84" y1="277.63" x2="424.64" y2="277.63" stroke="#f0960c" stroke-width="1.2" />
<line x1="419.84" y1="267.35" x2="424.64" y2="267.35" stroke="#f0960c" stroke-width="1.2" />
<circle cx="422.24" cy="272.49" r="2.2" fill="#f0960c"/>
<circle cx="433.76" cy="244.53" r="2.2" fill="#f0960c"/>
<line x1="451.04" y1="231.68" x2="451.04" y2="220.80" stroke="#f0960c" stroke-width="1.0" />
<line x1="448.64" y1="231.68" x2="453.44" y2="231.68" stroke="#f0960c" stroke-width="1.2" />
<line x1="448.64" y1="220.80" x2="453.44" y2="220.80" stroke="#f0960c" stroke-width="1.2" />
<circle cx="451.04" cy="226.24" r="2.2" fill="#f0960c"/>
<line x1="462.56" y1="229.26" x2="462.56" y2="219.89" stroke="#f0960c" stroke-width="1.0" />
<line x1="460.16" y1="229.26" x2="464.96" y2="229.26" stroke="#f0960c" stroke-width="1.2" />
<line x1="460.16" y1="219.89" x2="464.96" y2="219.89" stroke="#f0960c" stroke-width="1.2" />
<circle cx="462.56" cy="224.12" r="2.2" fill="#f0960c"/>
<line x1="474.08" y1="220.80" x2="474.08" y2="213.54" stroke="#f0960c" stroke-width="1.0" />
<line x1="471.68" y1="220.80" x2="476.48" y2="220.80" stroke="#f0960c" stroke-width="1.2" />
<line x1="471.68" y1="213.54" x2="476.48" y2="213.54" stroke="#f0960c" stroke-width="1.2" />
<circle cx="474.08" cy="217.17" r="2.2" fill="#f0960c"/>
<line x1="491.36" y1="229.26" x2="491.36" y2="222.61" stroke="#f0960c" stroke-width="1.0" />
<line x1="488.96" y1="229.26" x2="493.76" y2="229.26" stroke="#f0960c" stroke-width="1.2" />
<line x1="488.96" y1="222.61" x2="493.76" y2="222.61" stroke="#f0960c" stroke-width="1.2" />
<circle cx="491.36" cy="226.24" r="2.2" fill="#f0960c"/>
<line x1="508.64" y1="214.75" x2="508.64" y2="208.10" stroke="#f0960c" stroke-width="1.0" />
<line x1="506.24" y1="214.75" x2="511.04" y2="214.75" stroke="#f0960c" stroke-width="1.2" />
<line x1="506.24" y1="208.10" x2="511.04" y2="208.10" stroke="#f0960c" stroke-width="1.2" />
<circle cx="508.64" cy="211.73" r="2.2" fill="#f0960c"/>
<text x="1.90" y="356.80" font-size="15.8" text-anchor="start" font-weight="bold" fill="#000" >D</text>
<line x1="74.90" y1="367.20" x2="74.90" y2="465.50" stroke="#000" stroke-width="1.45" />
<line x1="74.90" y1="464.90" x2="246.80" y2="464.90" stroke="#000" stroke-width="1.45" />
<line x1="71.10" y1="381.10" x2="246.80" y2="381.10" stroke="#000" stroke-width="1.45" />
<line x1="71.10" y1="381.10" x2="74.90" y2="381.10" stroke="#000" stroke-width="1.1" />
<text x="67.20" y="384.70" font-size="10.4" text-anchor="end" font-weight="normal" fill="#231f20" >1200</text>
<line x1="71.10" y1="409.20" x2="74.90" y2="409.20" stroke="#000" stroke-width="1.1" />
<text x="67.20" y="412.80" font-size="10.4" text-anchor="end" font-weight="normal" fill="#231f20" >800</text>
<line x1="71.10" y1="436.80" x2="74.90" y2="436.80" stroke="#000" stroke-width="1.1" />
<text x="67.20" y="440.40" font-size="10.4" text-anchor="end" font-weight="normal" fill="#231f20" >400</text>
<line x1="71.10" y1="464.90" x2="74.90" y2="464.90" stroke="#000" stroke-width="1.1" />
<text x="67.20" y="468.50" font-size="10.4" text-anchor="end" font-weight="normal" fill="#231f20" >0</text>
<text x="67.20" y="372.20" font-size="10.4" text-anchor="end" font-weight="normal" fill="#231f20" >1200</text>
<polyline points="33.60,365.10 40.00,368.10 33.60,371.10" fill="none" stroke="#231f20" stroke-width="1.05"/>
<g transform="translate(26.2,416.9) rotate(-90)">
<text transform="translate(-39.10,0.00) scale(0.58,1)" font-size="11.9" letter-spacing="1.224" fill="#231f20" stroke="#231f20" stroke-width="0.3">Tail bleeding time (s)</text>
</g>
<line x1="105.50" y1="464.90" x2="105.50" y2="468.10" stroke="#000" stroke-width="1.1" />
<line x1="160.50" y1="464.90" x2="160.50" y2="468.10" stroke="#000" stroke-width="1.1" />
<line x1="215.60" y1="464.90" x2="215.60" y2="468.10" stroke="#000" stroke-width="1.1" />
<circle cx="105.50" cy="416.00" r="2.1" fill="#c40a2c"/>
<circle cx="105.50" cy="424.50" r="2.1" fill="#c40a2c"/>
<circle cx="105.50" cy="435.50" r="2.1" fill="#c40a2c"/>
<circle cx="96.40" cy="438.40" r="2.1" fill="#c40a2c"/>
<circle cx="114.80" cy="435.50" r="2.1" fill="#c40a2c"/>
<circle cx="114.80" cy="440.00" r="2.1" fill="#c40a2c"/>
<circle cx="105.50" cy="442.90" r="2.1" fill="#c40a2c"/>
<circle cx="100.90" cy="446.70" r="2.1" fill="#c40a2c"/>
<circle cx="110.00" cy="446.70" r="2.1" fill="#c40a2c"/>
<circle cx="96.40" cy="455.20" r="2.1" fill="#c40a2c"/>
<circle cx="105.50" cy="453.90" r="2.1" fill="#c40a2c"/>
<circle cx="114.80" cy="453.90" r="2.1" fill="#c40a2c"/>
<circle cx="157.70" cy="377.80" r="2.1" fill="#174a7e"/>
<circle cx="163.60" cy="377.80" r="2.1" fill="#174a7e"/>
<circle cx="157.40" cy="428.75" r="2.1" fill="#174a7e"/>
<circle cx="163.40" cy="430.10" r="2.1" fill="#174a7e"/>
<circle cx="145.60" cy="436.90" r="2.1" fill="#174a7e"/>
<circle cx="151.50" cy="435.70" r="2.1" fill="#174a7e"/>
<circle cx="157.40" cy="436.90" r="2.1" fill="#174a7e"/>
<circle cx="163.40" cy="436.60" r="2.1" fill="#174a7e"/>
<circle cx="169.10" cy="438.60" r="2.1" fill="#174a7e"/>
<circle cx="175.90" cy="435.70" r="2.1" fill="#174a7e"/>
<circle cx="151.50" cy="441.40" r="2.1" fill="#174a7e"/>
<circle cx="163.40" cy="441.00" r="2.1" fill="#174a7e"/>
<circle cx="215.60" cy="421.10" r="2.1" fill="#10694f"/>
<circle cx="215.60" cy="425.50" r="2.1" fill="#10694f"/>
<circle cx="215.60" cy="434.30" r="2.1" fill="#10694f"/>
<circle cx="206.80" cy="441.60" r="2.1" fill="#10694f"/>
<circle cx="215.60" cy="439.80" r="2.1" fill="#10694f"/>
<circle cx="224.80" cy="438.30" r="2.1" fill="#10694f"/>
<circle cx="215.60" cy="443.10" r="2.1" fill="#10694f"/>
<circle cx="224.80" cy="442.40" r="2.1" fill="#10694f"/>
<circle cx="206.80" cy="448.20" r="2.1" fill="#10694f"/>
<circle cx="215.60" cy="450.40" r="2.1" fill="#10694f"/>
<circle cx="224.80" cy="449.30" r="2.1" fill="#10694f"/>
<circle cx="215.60" cy="454.80" r="2.1" fill="#10694f"/>
<line x1="88.40" y1="441.30" x2="122.50" y2="441.30" stroke="#1a1a1a" stroke-width="1.3" />
<line x1="144.10" y1="436.30" x2="177.30" y2="436.30" stroke="#1a1a1a" stroke-width="1.3" />
<line x1="198.80" y1="441.60" x2="232.50" y2="441.60" stroke="#1a1a1a" stroke-width="1.3" />
<text x="278.50" y="356.80" font-size="15" text-anchor="start" font-weight="bold" fill="#000" >E</text>
<line x1="350.40" y1="367.20" x2="350.40" y2="465.50" stroke="#000" stroke-width="1.45" />
<line x1="350.40" y1="464.70" x2="518.90" y2="464.70" stroke="#000" stroke-width="1.45" />
<line x1="346.60" y1="377.10" x2="518.90" y2="377.10" stroke="#000" stroke-width="1.45" />
<line x1="346.60" y1="377.10" x2="350.40" y2="377.10" stroke="#000" stroke-width="1.1" />
<text x="342.30" y="380.70" font-size="10.4" text-anchor="end" font-weight="normal" fill="#231f20" >1800</text>
<line x1="346.60" y1="406.10" x2="350.40" y2="406.10" stroke="#000" stroke-width="1.1" />
<text x="342.30" y="409.70" font-size="10.4" text-anchor="end" font-weight="normal" fill="#231f20" >1200</text>
<line x1="346.60" y1="434.90" x2="350.40" y2="434.90" stroke="#000" stroke-width="1.1" />
<text x="342.30" y="438.50" font-size="10.4" text-anchor="end" font-weight="normal" fill="#231f20" >600</text>
<line x1="346.60" y1="464.70" x2="350.40" y2="464.70" stroke="#000" stroke-width="1.1" />
<text x="342.30" y="468.30" font-size="10.4" text-anchor="end" font-weight="normal" fill="#231f20" >0</text>
<text x="342.30" y="369.50" font-size="10.4" text-anchor="end" font-weight="normal" fill="#231f20" >1800</text>
<polyline points="308.70,362.40 315.10,365.40 308.70,368.40" fill="none" stroke="#231f20" stroke-width="1.05"/>
<g transform="translate(301.8,415.6) rotate(-90)">
<text transform="translate(-39.10,0.00) scale(0.58,1)" font-size="11.9" letter-spacing="1.275" fill="#231f20" stroke="#231f20" stroke-width="0.3">Time to occlusion (s)</text>
</g>
<line x1="380.40" y1="464.70" x2="380.40" y2="467.90" stroke="#000" stroke-width="1.1" />
<line x1="434.90" y1="464.70" x2="434.90" y2="467.90" stroke="#000" stroke-width="1.1" />
<line x1="489.20" y1="464.70" x2="489.20" y2="467.90" stroke="#000" stroke-width="1.1" />
<circle cx="380.40" cy="437.00" r="2.1" fill="#c40a2c"/>
<circle cx="395.00" cy="442.60" r="2.1" fill="#c40a2c"/>
<circle cx="375.40" cy="446.40" r="2.1" fill="#c40a2c"/>
<circle cx="385.20" cy="446.40" r="2.1" fill="#c40a2c"/>
<circle cx="365.80" cy="453.90" r="2.1" fill="#c40a2c"/>
<circle cx="375.40" cy="452.20" r="2.1" fill="#c40a2c"/>
<circle cx="385.20" cy="452.20" r="2.1" fill="#c40a2c"/>
<circle cx="395.00" cy="451.20" r="2.1" fill="#c40a2c"/>
<circle cx="365.80" cy="459.00" r="2.1" fill="#c40a2c"/>
<circle cx="385.20" cy="457.50" r="2.1" fill="#c40a2c"/>
<circle cx="395.00" cy="456.00" r="2.1" fill="#c40a2c"/>
<circle cx="425.80" cy="372.70" r="2.1" fill="#174a7e"/>
<circle cx="434.90" cy="372.70" r="2.1" fill="#174a7e"/>
<circle cx="443.70" cy="372.70" r="2.1" fill="#174a7e"/>
<circle cx="434.90" cy="433.20" r="2.1" fill="#174a7e"/>
<circle cx="434.90" cy="448.60" r="2.1" fill="#174a7e"/>
<circle cx="425.80" cy="454.10" r="2.1" fill="#174a7e"/>
<circle cx="443.70" cy="454.10" r="2.1" fill="#174a7e"/>
<circle cx="434.90" cy="455.60" r="2.1" fill="#174a7e"/>
<circle cx="434.90" cy="461.10" r="2.1" fill="#174a7e"/>
<circle cx="489.20" cy="372.70" r="2.1" fill="#10694f"/>
<circle cx="484.40" cy="445.70" r="2.1" fill="#10694f"/>
<circle cx="474.90" cy="451.20" r="2.1" fill="#10694f"/>
<circle cx="484.40" cy="450.40" r="2.1" fill="#10694f"/>
<circle cx="494.30" cy="450.80" r="2.1" fill="#10694f"/>
<circle cx="504.20" cy="449.30" r="2.1" fill="#10694f"/>
<circle cx="474.90" cy="457.40" r="2.1" fill="#10694f"/>
<circle cx="494.30" cy="456.30" r="2.1" fill="#10694f"/>
<circle cx="504.20" cy="453.70" r="2.1" fill="#10694f"/>
<line x1="364.20" y1="452.40" x2="396.80" y2="452.40" stroke="#1a1a1a" stroke-width="1.3" />
<line x1="418.40" y1="448.60" x2="451.80" y2="448.60" stroke="#1a1a1a" stroke-width="1.3" />
<line x1="473.40" y1="450.80" x2="505.70" y2="450.80" stroke="#1a1a1a" stroke-width="1.3" />
<text x="105.70" y="481.70" font-size="10" text-anchor="middle" font-weight="normal" fill="#231f20" >WT</text>
<text x="160.20" y="484.80" font-size="10" text-anchor="middle" font-weight="normal" fill="#231f20" >hCLEC-2<tspan font-size="6.4" dy="-3.2" dx="0.4">KI</tspan></text>
<text x="215.20" y="484.80" font-size="10" text-anchor="middle" font-weight="normal" fill="#231f20" >hCLEC-2<tspan font-size="6.4" dy="-3.2" dx="0.4">KI</tspan></text>
<text x="215.40" y="496.80" font-size="10" text-anchor="middle" font-weight="normal" fill="#231f20" >depleted</text>
<text x="380.60" y="481.70" font-size="10" text-anchor="middle" font-weight="normal" fill="#231f20" >WT</text>
<text x="434.60" y="484.80" font-size="10" text-anchor="middle" font-weight="normal" fill="#231f20" >hCLEC-2<tspan font-size="6.4" dy="-3.2" dx="0.4">KI</tspan></text>
<text x="490.00" y="484.80" font-size="10" text-anchor="middle" font-weight="normal" fill="#231f20" >hCLEC-2<tspan font-size="6.4" dy="-3.2" dx="0.4">KI</tspan></text>
<text x="489.20" y="496.80" font-size="10" text-anchor="middle" font-weight="normal" fill="#231f20" >depleted</text>
</svg></body></html>
